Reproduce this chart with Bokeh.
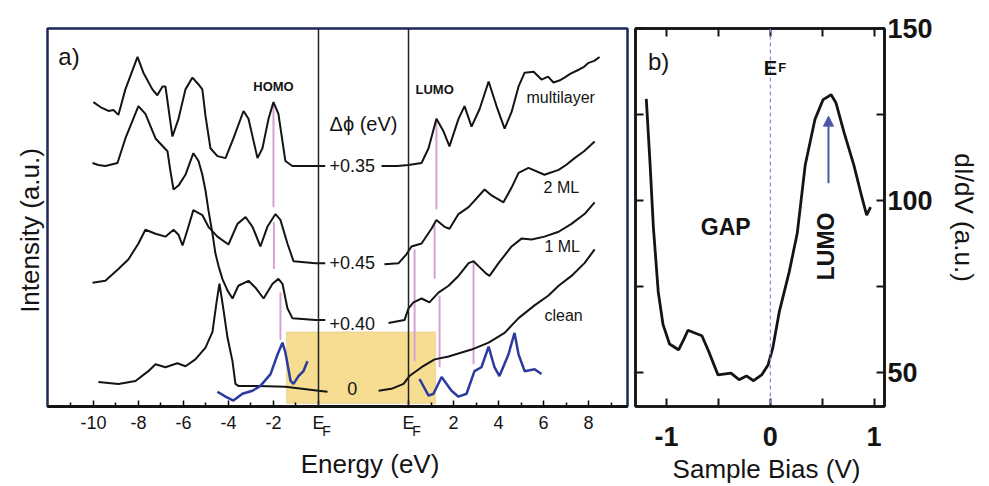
import numpy as np
from bokeh.plotting import figure
from bokeh.layouts import row
from bokeh.models import Range1d, FixedTicker, LinearAxis, Span, Label, BoxAnnotation, Arrow, NormalHead
from bokeh.embed import file_html
from bokeh.resources import INLINE

# ---------------- Panel a data: energy (eV, rel. E_F) and intensity (a.u.) ----------------
ml_occ_e = [-10.0, -9.69, -9.33, -9.11, -8.89, -8.58, -8.04, -7.78, -7.38, -7.16, -6.93, -6.80, -6.49, -6.22,
            -5.91, -5.60, -5.33, -5.16, -5.02, -4.80, -4.49, -4.13, -3.78, -3.33, -3.11, -2.71, -2.49, -2.22,
            -2.00, -1.78, -1.47, -1.16, -0.6, 0.0, 0.3]
ml_occ_i = [310, 305, 301, 302, 297, 323, 356, 340, 323, 317, 326, 326, 275, 293,
            323, 335, 328, 323, 296, 263, 255, 253, 273, 301, 293, 253, 263, 293,
            310, 298, 250, 245, 245, 245, 245]
ml_unocc_e = [-1.2, -0.5, 0.0, 0.58, 0.89, 1.24, 1.56, 1.82, 2.22, 2.49, 2.80, 3.16, 3.56, 3.91, 4.27, 4.58,
              4.89, 5.16, 5.56, 5.91, 6.20, 6.44, 6.70, 6.93, 7.20, 7.56, 7.80, 8.00, 8.25, 8.49]
ml_unocc_i = [245, 245, 246, 248, 263, 293, 280, 265, 293, 306, 285, 303, 331, 306, 283, 300,
              326, 340, 341, 333, 336, 330, 332, 335, 339, 343, 346, 350, 352, 356]

ml2_occ_e = [-10.04, -9.47, -8.89, -8.44, -8.00, -7.69, -7.24, -6.80, -6.44, -6.22, -6.04, -5.82, -5.56, -5.16,
             -4.89, -4.49, -4.00, -3.60, -3.24, -2.93, -2.58, -2.27, -1.91, -1.69, -1.38, -1.11, -0.13, 0.3]
ml2_occ_i = [126, 128, 140, 150, 166, 180, 176, 173, 180, 175, 164, 180, 200, 195,
             183, 173, 165, 186, 193, 183, 163, 183, 196, 190, 166, 148, 146, 146]
ml2_unocc_e = [-1.07, -0.44, -0.09, 0.13, 0.58, 1.02, 1.24, 1.60, 1.82, 2.22, 2.67, 3.38, 3.69, 4.22, 4.58,
               4.89, 5.33, 6.04, 6.67, 7.00, 7.38, 7.80, 8.27]
ml2_unocc_i = [145, 146, 155, 163, 166, 181, 190, 183, 181, 196, 203, 221, 215, 208, 223,
               238, 243, 236, 241, 246, 253, 260, 270]

ml1_occ_e = [-10.04, -9.78, -9.47, -8.93, -8.58, -8.00, -7.69, -7.24, -6.71, -6.58, -6.44, -6.22, -5.91, -5.56,
             -5.33, -5.16, -5.02, -4.89, -4.71, -4.58, -4.44, -4.27, -4.04, -3.82, -3.56, -3.11, -2.80, -2.44,
             -2.04, -1.78, -1.60, -1.38, -1.16, -0.13, 0.3]
ml1_occ_i = [248, 246, 245, 248, 273, 306, 298, 273, 260, 240, 221, 225, 236, 258,
             250, 236, 220, 200, 176, 156, 143, 130, 118, 110, 123, 128, 121, 110,
             125, 130, 125, 100, 90, 88, 88]
ml1_unocc_e = [-0.89, -0.18, 0.0, 0.22, 0.58, 0.93, 1.33, 1.78, 2.22, 2.67, 2.89, 3.11, 3.47, 3.60, 4.00,
               4.58, 5.02, 5.47, 6.04, 6.67, 7.24, 7.82, 8.27]
ml1_unocc_i = [85, 88, 100, 106, 110, 106, 116, 123, 133, 146, 148, 143, 135, 133, 146,
               163, 171, 170, 173, 178, 186, 196, 208]

clean_occ_e = [-9.78, -8.89, -8.13, -7.56, -7.24, -6.80, -6.27, -5.91, -5.47, -5.02, -4.71, -4.53, -4.40,
               -4.27, -4.04, -3.82, -3.69, -3.56, -2.67, -1.47, 0.0, 0.4]
clean_occ_i = [25, 23, 26, 36, 43, 40, 44, 41, 48, 60, 76, 106, 125,
               106, 70, 46, 23, 21, 21, 20, 16, 15]
clean_unocc_e = [-1.33, -0.76, -0.22, 0.04, 0.58, 1.16, 1.78, 2.80, 3.56, 4.27, 4.89, 5.60, 6.22, 6.67,
                 7.24, 7.82, 8.27]
clean_unocc_i = [16, 18, 23, 31, 40, 48, 51, 58, 65, 75, 90, 103, 113, 123,
                 133, 146, 160]

dos_occ_e = [-4.49, -4.13, -3.78, -3.38, -2.93, -2.58, -2.13, -1.82, -1.60, -1.47, -1.24, -1.11, -0.89, -0.67, -0.49]
dos_occ_i = [15, 10, 6, 13, 16, 21, 33, 53, 65, 55, 26, 23, 31, 36, 46]
dos_unocc_e = [0.49, 0.89, 1.11, 1.47, 1.91, 2.22, 2.58, 2.93, 3.24, 3.56, 3.82, 4.04, 4.44, 4.71, 4.89,
               5.16, 5.60, 5.91]
dos_unocc_i = [28, 11, 13, 30, 16, 10, 13, 36, 40, 61, 40, 31, 53, 75, 53,
               36, 38, 33]

# HOMO / LUMO marker lines (energy, intensity from, intensity to)
homo_mark_e = [-2.0, -1.98, -1.69]
homo_mark_lo = [203, 140, 68]
homo_mark_hi = [308, 188, 116]
lumo_mark_e = [1.24, 1.16, 0.27, 1.38, 2.89]
lumo_mark_lo = [201, 130, 46, 40, 43]
lumo_mark_hi = [293, 185, 160, 113, 148]

# work-function shifts
dphi_labels = ["+0.35", "+0.45", "+0.40", "0"]
dphi_levels = [245, 147, 85, 18]

# highlighted gap region
highlight_occ_e = -1.42
highlight_unocc_e = 1.2
highlight_i = [3, 76]

# axis ticks
tick_occ_e = [-10, -8, -6, -4, -2, 0]
tick_occ_lab = ["-10", "-8", "-6", "-4", "-2", "E"]
tick_unocc_e = [0, 2, 4, 6, 8]
tick_unocc_lab = ["E", "2", "4", "6", "8"]
minor_occ_e = [-11, -9, -7, -5, -3, -1]
minor_unocc_e = [1, 3, 5, 7, 9]

# ---------------- Panel b data ----------------
bias = [-1.196, -1.159, -1.128, -1.081, -1.035, -0.972, -0.885, -0.832, -0.794, -0.722, -0.66, -0.598, -0.505,
        -0.38, -0.302, -0.231, -0.162, -0.084, -0.022, 0.025, 0.087, 0.181, 0.259, 0.336, 0.43, 0.508, 0.586,
        0.633, 0.71, 0.804, 0.882, 0.928, 0.966]
didv = [129.5, 110.3, 92.3, 73.4, 63.9, 58.2, 56.5, 59.7, 62.2, 61.3, 60.6, 56.3, 49.2,
        49.7, 47.8, 48.9, 47.5, 49.2, 52.1, 57.3, 67.7, 79.1, 90.4, 110.3, 123.6, 129.3, 130.7,
        128.3, 119.8, 110.3, 100.9, 95.7, 98]
bias_ticks = [-1, 0, 1]
bias_labels = ["-1", "0", "1"]
bias_minor = [-0.5, 0.5]
didv_ticks = [50, 100, 150]
didv_minor = [75, 125]
lumo_arrow = [0.56, 105, 124.5]

# ---------------- styling ----------------
OFFSET = 4.0          # shift of the unoccupied energy scale in panel a
FONT = "Liberation Sans"
BLACK = "#141414"
PINK = "#d8a2d0"
BLUE = "#2b3a9e"
NAVY = "#1d2a57"


def sh(e):
    return [v + OFFSET for v in e]


# ================= Panel a =================
pa = figure(width=631, height=486, output_backend="svg", toolbar_location=None,
            x_range=Range1d(-12.04, 13.73), y_range=Range1d(0, 385),
            y_axis_location=None, min_border_left=47, min_border_right=4,
            min_border_top=28, min_border_bottom=73)
pa.xgrid.visible = False
pa.ygrid.visible = False
pa.outline_line_color = NAVY
pa.outline_line_width = 2.5
pa.outline_line_alpha = 1

ticks = tick_occ_e + sh(tick_unocc_e)
labs = tick_occ_lab + tick_unocc_lab
ax = pa.xaxis[0]
ax.ticker = FixedTicker(ticks=ticks, minor_ticks=minor_occ_e + sh(minor_unocc_e))
ax.major_label_overrides = {t: l for t, l in zip(ticks, labs)}
ax.axis_line_color = BLACK
ax.axis_line_width = 3
ax.major_tick_in = 6
ax.major_tick_out = 0
ax.minor_tick_in = 4
ax.minor_tick_out = 0
ax.major_tick_line_width = 1.5
ax.minor_tick_line_width = 1.5
ax.major_label_standoff = 6
ax.major_label_text_font = FONT
ax.major_label_text_font_size = "18px"
ax.major_label_text_color = BLACK

# subscript "F" of the two E_F tick labels, plus the axis title
fpos = [0.36, OFFSET + 0.36]
fax = LinearAxis(ticker=FixedTicker(ticks=fpos, minor_ticks=[]),
                 major_label_overrides={f: "F" for f in fpos},
                 axis_line_color=None, major_tick_line_color=None, minor_tick_line_color=None,
                 major_tick_in=0, major_tick_out=0, major_label_standoff=-13,
                 major_label_text_font=FONT, major_label_text_font_size="14px",
                 major_label_text_color=BLACK,
                 axis_label="\u2002\u2002\u2002\u2002\u2002Energy (eV)", axis_label_standoff=7,
                 axis_label_text_font=FONT, axis_label_text_font_size="26px",
                 axis_label_text_font_style="normal", axis_label_text_color=BLACK)
pa.add_layout(fax, "below")

yax = LinearAxis(ticker=FixedTicker(ticks=[], minor_ticks=[]), axis_line_color=None,
                 major_tick_line_color=None, minor_tick_line_color=None,
                 major_label_standoff=0, axis_label="Intensity (a.u.)\u2002\u2002", axis_label_standoff=3,
                 axis_label_text_font=FONT, axis_label_text_font_size="26px",
                 axis_label_text_font_style="normal", axis_label_text_color=BLACK)
pa.add_layout(yax, "left")

pa.add_layout(BoxAnnotation(left=highlight_occ_e, right=highlight_unocc_e + OFFSET,
                            bottom=highlight_i[0], top=highlight_i[1], level="underlay",
                            fill_color="#f5d77f", fill_alpha=0.85,
                            line_color="#d6a45c", line_width=1.2))
for xv in (0, OFFSET):
    pa.add_layout(Span(location=xv, dimension="height", line_color="#222222", line_width=1.5))

pa.segment(homo_mark_e, homo_mark_lo, homo_mark_e, homo_mark_hi, line_color=PINK, line_width=2)
pa.segment(sh(lumo_mark_e), lumo_mark_lo, sh(lumo_mark_e), lumo_mark_hi, line_color=PINK, line_width=2)

for e, i in [(ml_occ_e, ml_occ_i), (ml2_occ_e, ml2_occ_i), (ml1_occ_e, ml1_occ_i), (clean_occ_e, clean_occ_i)]:
    pa.line(e, i, line_color=BLACK, line_width=2)
for e, i in [(ml_unocc_e, ml_unocc_i), (ml2_unocc_e, ml2_unocc_i), (ml1_unocc_e, ml1_unocc_i),
             (clean_unocc_e, clean_unocc_i)]:
    pa.line(sh(e), i, line_color=BLACK, line_width=2)
pa.line(dos_occ_e, dos_occ_i, line_color=BLUE, line_width=2.5)
pa.line(sh(dos_unocc_e), dos_unocc_i, line_color=BLUE, line_width=2.5)


def lab(p, text, x, y, size, bold=False, align="left", baseline="middle", angle=0.0, color=BLACK):
    p.add_layout(Label(x=x, y=y, text=text, angle=angle,
                       text_font=FONT, text_font_size=size, text_color=color,
                       text_font_style="bold" if bold else "normal",
                       text_align=align, text_baseline=baseline))


lab(pa, "a)", -11.56, 356, "24px")
lab(pa, "HOMO", -2.0, 326, "13px", bold=True, align="center")
lab(pa, "LUMO", 1.16 + OFFSET, 323, "13px", bold=True, align="center")
lab(pa, "Δϕ (eV)", 2.0, 288, "20px", align="center")
for t, yv in zip(dphi_labels, dphi_levels):
    lab(pa, t, 1.5, yv, "18px", align="center")
lab(pa, "multilayer", 5.24 + OFFSET, 315, "16px")
lab(pa, "2 ML", 6.0 + OFFSET, 223, "16px")
lab(pa, "1 ML", 6.04 + OFFSET, 163, "16px")
lab(pa, "clean", 6.04 + OFFSET, 93, "16px")

# ================= Panel b =================
pb = figure(width=350, height=486, output_backend="svg", toolbar_location=None,
            x_range=Range1d(-1.30, 1.10), y_range=Range1d(40, 150),
            y_axis_location="right", min_border_left=4, min_border_right=89,
            min_border_top=28, min_border_bottom=73)
pb.xgrid.visible = False
pb.ygrid.visible = False
pb.outline_line_color = BLACK
pb.outline_line_width = 2.5
pb.outline_line_alpha = 1


def style_axis(a, ticks, minors):
    a.ticker = FixedTicker(ticks=ticks, minor_ticks=minors)
    a.axis_line_color = BLACK
    a.axis_line_width = 2.5
    a.major_tick_in = 8
    a.major_tick_out = 0
    a.minor_tick_in = 8
    a.minor_tick_out = 0
    a.major_tick_line_width = 2
    a.minor_tick_line_width = 2
    a.major_tick_line_color = BLACK
    a.minor_tick_line_color = BLACK
    a.major_label_text_font = FONT
    a.major_label_text_font_style = "bold"
    a.major_label_text_color = BLACK
    a.major_label_text_font_size = "27px"
    a.axis_label_text_font = FONT
    a.axis_label_text_font_size = "26px"
    a.axis_label_text_font_style = "normal"
    a.axis_label_text_color = BLACK


xb = pb.xaxis[0]
style_axis(xb, bias_ticks, bias_minor)
xb.major_label_standoff = 20
xb.major_label_overrides = {t: l for t, l in zip(bias_ticks, bias_labels)}
xb.axis_label = "\u2002Sample Bias (V)"
xb.axis_label_standoff = 5

yb = pb.yaxis[0]
style_axis(yb, didv_ticks, didv_minor)
yb.major_label_standoff = 3
yb.axis_label = "dI/dV (a.u.)"
yb.axis_label_standoff = 13

# mirrored tick marks (no labels) on left and top
lax = LinearAxis()
style_axis(lax, [], didv_ticks + didv_minor)
lax.major_label_standoff = 0
pb.add_layout(lax, "left")
tax = LinearAxis()
style_axis(tax, [], bias_ticks + bias_minor)
tax.major_label_standoff = 0
pb.add_layout(tax, "above")

pb.add_layout(Span(location=0, dimension="height", line_color="#8c8cd0", line_width=1.2, line_dash="4 3"))
pb.line(bias, didv, line_color=BLACK, line_width=2.8)
pb.add_layout(Arrow(end=NormalHead(size=10, fill_color="#4b58a8", line_color="#4b58a8"),
                    x_start=lumo_arrow[0], y_start=lumo_arrow[1], x_end=lumo_arrow[0], y_end=lumo_arrow[2],
                    line_color="#4b58a8", line_width=2))

lab(pb, "b)", -1.18, 140.3, "24px")
lab(pb, "E", -0.065, 138.6, "20px", bold=True, baseline="alphabetic")
lab(pb, "F", 0.075, 138.6, "13px", bold=True, baseline="alphabetic")
lab(pb, "GAP", -0.43, 92.3, "23px", bold=True, align="center")
lab(pb, "LUMO", 0.54, 86.6, "23px", bold=True, align="center", angle=np.pi / 2)

layout = row(pa, pb)
open("out.html", "w").write(file_html(layout, INLINE))
